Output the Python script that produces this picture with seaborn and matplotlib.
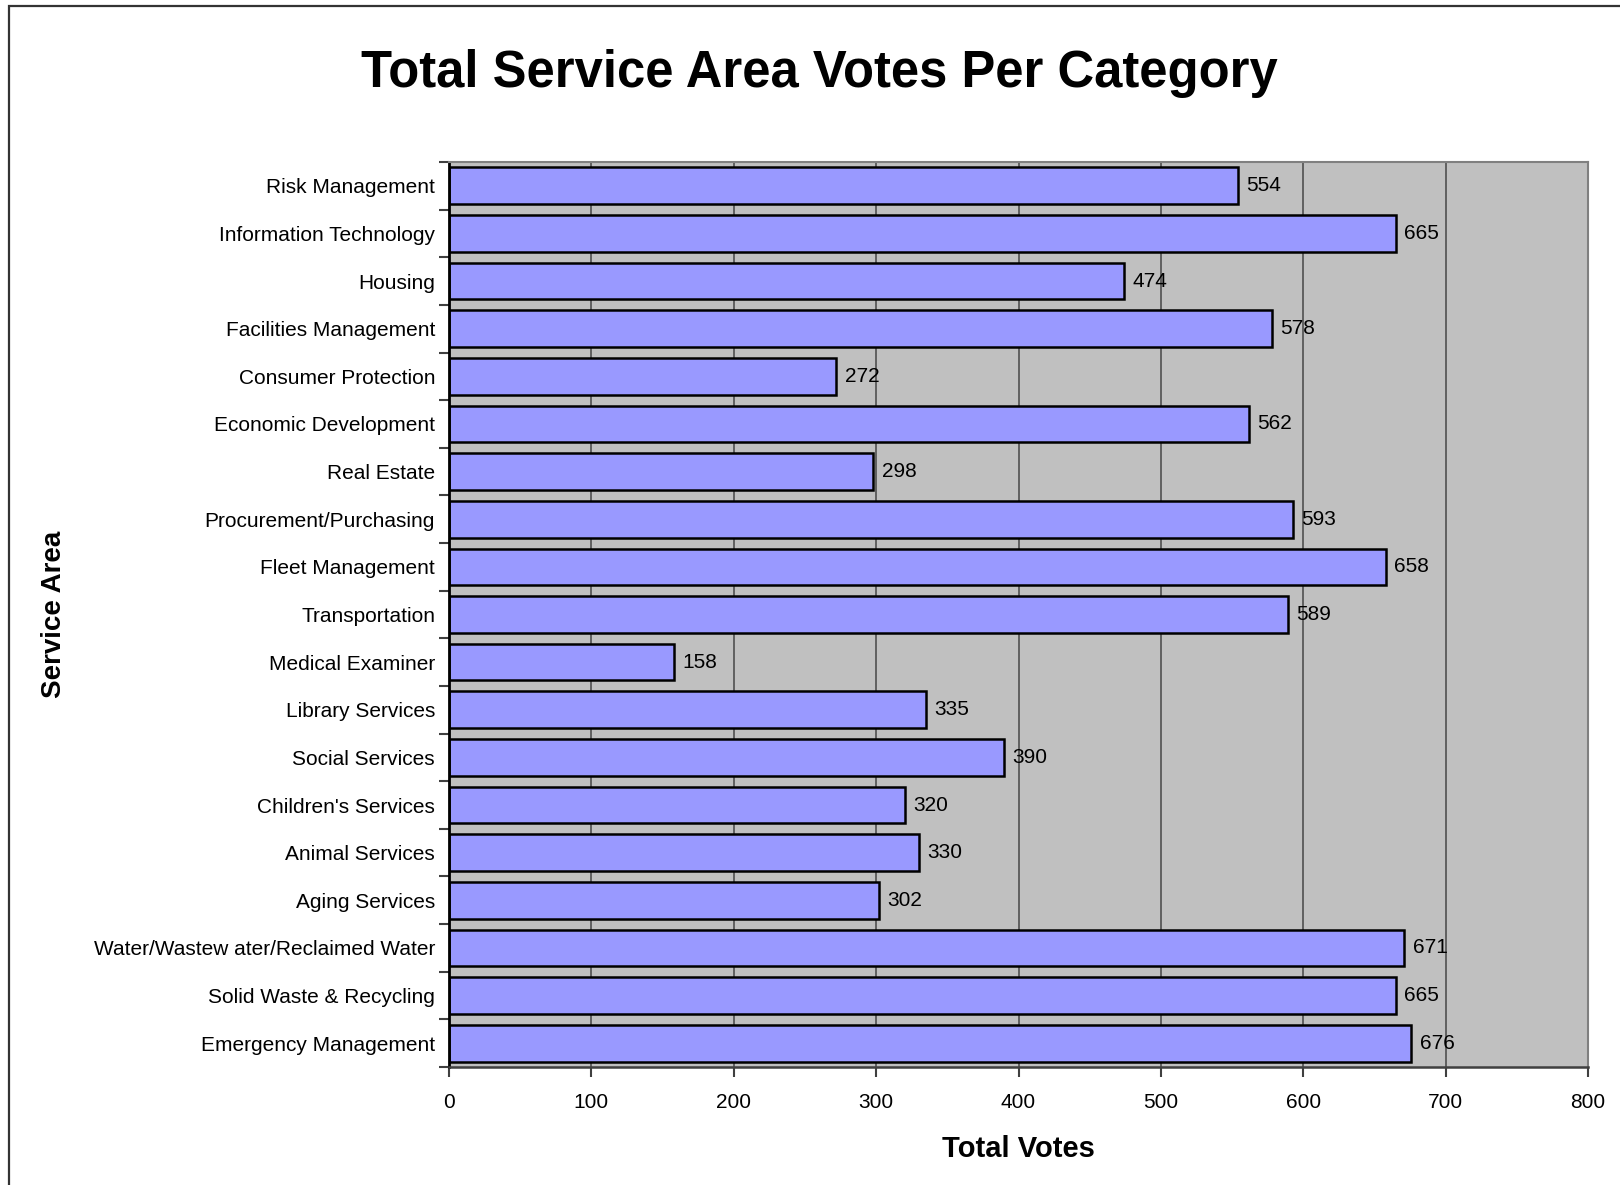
import numpy as np
import pandas as pd
import matplotlib
matplotlib.use("Agg")
import matplotlib.pyplot as plt
import matplotlib.patches as patches
import seaborn as sns

# data (top to bottom)
areas = ["Risk Management", "Information Technology", "Housing", "Facilities Management",
         "Consumer Protection", "Economic Development", "Real Estate", "Procurement/Purchasing",
         "Fleet Management", "Transportation", "Medical Examiner", "Library Services",
         "Social Services", "Children's Services", "Animal Services", "Aging Services",
         "Water/Wastew ater/Reclaimed Water", "Solid Waste & Recycling", "Emergency Management"]
votes = [554, 665, 474, 578, 272, 562, 298, 593, 658, 589, 158, 335, 390, 320, 330, 302, 671, 665, 676]
x_ticks = [0, 100, 200, 300, 400, 500, 600, 700, 800]

df = pd.DataFrame({"area": areas, "votes": votes})

sns.set_style("ticks")
plt.rcParams["font.family"] = ["Liberation Sans", "DejaVu Sans"]
plt.rcParams["text.color"] = "black"
plt.rcParams["axes.labelcolor"] = "black"
plt.rcParams["xtick.labelcolor"] = "black"
plt.rcParams["ytick.labelcolor"] = "black"

fig = plt.figure(figsize=(16.2, 11.85), dpi=100)
ax = fig.add_axes([449/1620, 1-1067/1185, (1588-449)/1620, (1067-162)/1185])
ax.set_facecolor("#C0C0C0")

sns.barplot(data=df, x="votes", y="area", orient="h", color="#9999FF",
            edgecolor="black", linewidth=1.8, width=0.77, saturation=1, ax=ax)

# value labels
for cont in ax.containers:
    ax.bar_label(cont, labels=[str(v) for v in votes], padding=6, fontsize=15, color="black")

ax.set_xlim(0, 800)
ax.set_xticks(x_ticks)
ax.set_xticklabels([str(t) for t in x_ticks], fontsize=15)
ax.set_ylim(len(areas) - 0.5, -0.5)
ax.tick_params(axis="y", which="major", length=0, labelsize=15, pad=10)
ax.set_yticks(np.arange(-0.5, len(areas)), minor=True)
ax.tick_params(axis="y", which="minor", length=7, width=1.5, color="#404040", direction="out")
ax.tick_params(axis="x", which="major", length=7, width=1.5, color="#404040", direction="out", pad=12)

ax.grid(axis="x", color="#505050", linewidth=1.2)
ax.set_axisbelow(True)
for side in ["top", "right"]:
    ax.spines[side].set_color("#808080")
    ax.spines[side].set_linewidth(1.5)
ax.spines["left"].set_color("black")
ax.spines["left"].set_linewidth(2)
ax.spines["bottom"].set_color("#404040")
ax.spines["bottom"].set_linewidth(1.8)

ax.set_xlabel("Total Votes", fontsize=21, fontweight="bold", labelpad=16)
ax.set_ylabel("Service Area", fontsize=20, fontweight="bold")
ax.yaxis.set_label_coords((67 - 449) / (1588 - 449), 0.5)

fig.text(0.506, 1 - 74/1185, "Total Service Area Votes Per Category",
         fontsize=36.5, fontweight="bold", ha="center", va="center", color="black")

# outer chart border (clipped at right and bottom like the reference)
border = patches.Rectangle((9/1620, -0.1), 1.2, 1 - 6/1185 + 0.1, transform=fig.transFigure,
                           fill=False, edgecolor="#333333", linewidth=1.6, clip_on=False)
fig.patches.append(border)

fig.savefig("out.png", dpi=100)
